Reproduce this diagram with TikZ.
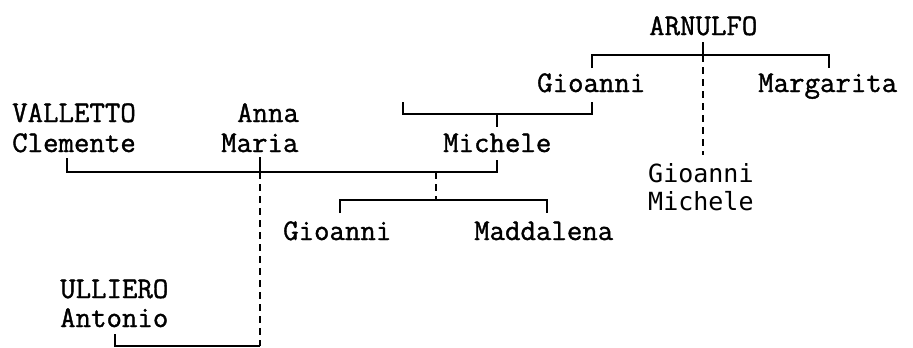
\documentclass[tikz,border=0pt]{standalone}
\usepackage{fontspec}
\newfontfamily\sansmono{DejaVu Sans Mono}
\newfontfamily\heavymono{Latin Modern Mono}[FakeBold=1.2]
\begin{document}
\begin{tikzpicture}[x=1pt,y=1pt,
  pname/.style={inner sep=0pt,anchor=base west,font=\fontsize{30}{30}\selectfont\heavymono},
  sname/.style={inner sep=0pt,anchor=base west,font=\fontsize{25}{25}\selectfont\sansmono},
  link/.style={line width=1.4pt},
  dlink/.style={line width=1.4pt,dash pattern=on 7pt off 5pt}]
\useasboundingbox (0,0) rectangle (913,-348);
% names
\node[pname] (arnulfo) at (649,-35) {ARNULFO};
\node[pname] (gio1) at (537,-92) {Gioanni};
\node[pname] (marg) at (758,-92) {Margarita};
\node[pname] (vall) at (12,-122) {VALLETTO};
\node[pname] (clem) at (12,-152) {Clemente};
\node[pname] (anna) at (237,-122) {Anna};
\node[pname] (maria) at (221,-152) {Maria};
\node[pname] (mich) at (443,-152) {Michele};
\node[sname] (gm1) at (648,-182) {Gioanni};
\node[sname] (gm2) at (648,-210) {Michele};
\node[pname] (gio2) at (283,-240) {Gioanni};
\node[pname] (madd) at (474,-240) {Maddalena};
\node[pname] (ull) at (60,-298) {ULLIERO};
\node[pname] (ant) at (60,-327) {Antonio};
% coordinates
\coordinate (aT) at (703,-42);
\coordinate (aC) at (703,-55);
\coordinate (aL) at (592,-55);
\coordinate (aR) at (829,-55);
\coordinate (aLd) at (592,-68);
\coordinate (aRd) at (829,-68);
\coordinate (aD) at (703,-155);
\coordinate (gL) at (403,-102);
\coordinate (gR) at (592,-102);
\coordinate (gC) at (497,-114);
\coordinate (gCd) at (497,-127);
\coordinate (mL) at (67,-158);
\coordinate (mR) at (497,-160);
\coordinate (mA) at (260,-157);
\coordinate (mAc) at (260,-172);
\coordinate (mAd) at (260,-346);
\coordinate (uL) at (115,-334);
\coordinate (mC) at (436,-172);
\coordinate (cC) at (436,-200);
\coordinate (cL) at (340,-213);
\coordinate (cR) at (547,-213);
% ARNULFO family
\draw[link] (aT) -- (aC);
\draw[link] (aLd) -- (aL) -- (aR) -- (aRd);
\draw[dlink] (aC) -- (aD);
% Gioanni + spouse -> Michele
\draw[link] (gL) |- (gC) -| (gR);
\draw[link] (gC) -- (gCd);
% main marriage line
\draw[link] (mL) |- (mAc) -| (mR);
\draw[link] (mA) -- (mAc);
\draw[dlink] (mAc) -- (mAd);
\draw[link] (uL) |- (mAd);
% children
\draw[dlink] (mC) -- (cC);
\draw[link] (cL) |- (cC) -| (cR);
\end{tikzpicture}
\end{document}
